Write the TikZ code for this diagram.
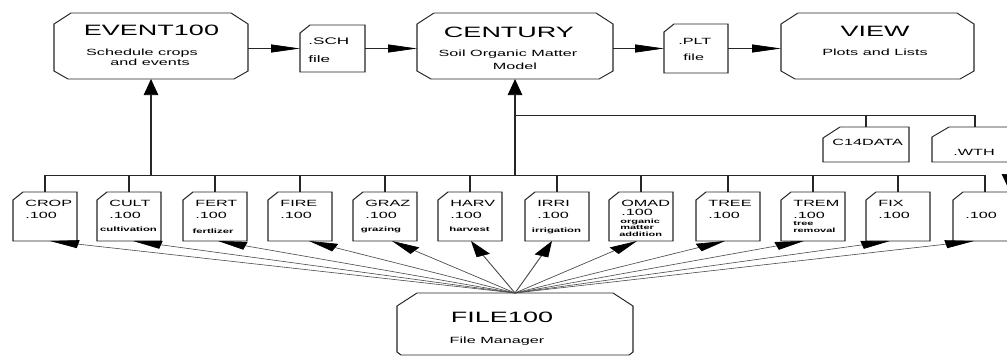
\documentclass[tikz,border=0pt]{standalone}
\usepackage{fontspec}
\setmainfont{Liberation Sans}
\usetikzlibrary{arrows.meta,calc}

\tikzset{
  boxline/.style={draw=black!85, line width=0.75pt, line join=miter},
  holder/.style={inner sep=0pt, outer sep=0pt, draw=none},
  arr/.style={draw=black!85, line width=0.65pt, -{Triangle[length=16pt,width=8pt,color=black]}},
  fan/.style={draw=black!70, line width=0.6pt, -{Triangle[length=16pt,width=8pt,color=black]}},
  wire/.style={draw=black!85, line width=0.65pt},
  ttl/.style={font=\fontsize{15}{18}\selectfont, inner sep=0pt, anchor=base},
  sub/.style={font=\fontsize{9}{11}\selectfont, inner sep=0pt, anchor=base},
  fnm/.style={font=\fontsize{9}{11}\selectfont, inner sep=0pt, anchor=base west},
  fsb/.style={font=\bfseries\fontsize{6.3}{7}\selectfont, inner sep=0pt, anchor=base},
  fsbw/.style={font=\bfseries\fontsize{6.1}{7}\selectfont, inner sep=0pt, anchor=base west},
}

% octagon outline round a holder node: name, top cut x, top cut y, bottom cut x, bottom cut y
\newcommand\octa[5]{\draw[boxline] ($(#1.north west)+(#2,0)$) -- ($(#1.north east)+(-#2,0)$) -- ($(#1.north east)+(0,#3)$) -- ($(#1.south east)+(0,-#5)$) -- ($(#1.south east)+(-#4,0)$) -- ($(#1.south west)+(#4,0)$) -- ($(#1.south west)+(0,-#5)$) -- ($(#1.north west)+(0,#3)$) -- cycle;}
% file outline with cut top-left corner
\newcommand\dogear[3]{\draw[boxline] ($(#1.north west)+(#2,0)$) -- (#1.north east) -- (#1.south east) -- (#1.south west) -- ($(#1.north west)+(0,#3)$) -- cycle;}
% one .100 file of the lower row: name, centre x, title, baseline offset of .100
\newcommand\filebox[4]{%
  \node[holder, minimum width=35.56pt, minimum height=49pt] (#1) at (#2,216.5) {};
  \dogear{#1}{10}{8}
  \node[fnm] (#1-n) at ($(#1.north west)+(12,14.5)$) {#3};
  \node[fnm] (#1-x) at ($(#1.north west)+(12,#4)$) {.100};
  \draw[wire] (#1.north) -- (#1.north |- bus);
}

\begin{document}
\begin{tikzpicture}
\useasboundingbox (0pt,0pt) rectangle (1007pt,-356pt);
\fill[white] (0pt,0pt) rectangle (1007pt,-356pt);
\begin{scope}[transform canvas={xscale=1.8}, x=0.555556pt, y=-1pt]
\clip (0,0) rectangle (1007,356);
\coordinate (bus) at (0,175);
\coordinate (br) at (0,115);

% main programs
\node[holder, minimum width=107.78pt, minimum height=66pt] (ev) at (151,46) {};
\octa{ev}{17}{11}{14}{8}
\node[ttl] (ev-t) at (151.5,35) {EVENT100};
\node[sub] (ev-s1) at (142,55) {Schedule crops};
\node[sub] (ev-s2) at (150,65.7) {and events};

\node[holder, minimum width=108.89pt, minimum height=66pt] (ce) at (515,46) {};
\octa{ce}{17}{11}{14}{8}
\node[ttl] (ce-t) at (509,37) {CENTURY};
\node[sub] (ce-s1) at (508,56.7) {Soil Organic Matter};
\node[sub] (ce-s2) at (515,69.3) {Model};

\node[holder, minimum width=107.22pt, minimum height=66pt] (vw) at (877.5,46) {};
\octa{vw}{17}{11}{14}{8}
\node[ttl] (vw-t) at (875,36.7) {VIEW};
\node[sub] (vw-s) at (875,55.7) {Plots and Lists};

\node[holder, minimum width=131.11pt, minimum height=62pt] (fm) at (515,324) {};
\octa{fm}{20}{13}{4}{3}
\node[ttl] (fm-t) at (502,322.7) {FILE100};
\node[sub] (fm-s) at (497,343) {File Manager};

% intermediate files
\node[holder, minimum width=36.11pt, minimum height=47pt] (sch) at (332.5,48.5) {};
\dogear{sch}{10}{8}
\node[fnm, font=\fontsize{9.5}{11}\selectfont] (sch-a) at (308,44) {.SCH};
\node[fnm, font=\fontsize{9.5}{11}\selectfont] (sch-b) at (308,62.3) {file};

\node[holder, minimum width=35.56pt, minimum height=49pt] (plt) at (696,48.5) {};
\dogear{plt}{10}{8}
\node[fnm] (plt-a) at (678,44) {.PLT};
\node[fnm] (plt-b) at (683,60) {file};

\node[holder, minimum width=47.78pt, minimum height=35pt] (c14) at (866,144.5) {};
\dogear{c14}{17}{11}
\node[fnm] (c14-a) at (832,145.7) {C14DATA};

\node[holder, minimum width=47.78pt, minimum height=35pt] (wth) at (975,144.5) {};
\dogear{wth}{17}{10}
\node[fnm] (wth-a) at (953,155) {.WTH};

% lower row of .100 files
\filebox{crop}{45}{CROP}{26.3}
\filebox{cult}{129}{CULT}{26.3}
\filebox{fert}{215}{FERT}{26.3}
\filebox{fire}{300}{FIRE}{26.3}
\filebox{graz}{385}{GRAZ}{26.3}
\filebox{harv}{470}{HARV}{26.3}
\filebox{irri}{557}{IRRI}{26.3}
\filebox{omad}{641}{OMAD}{23.5}
\filebox{tree}{728}{TREE}{26.3}
\filebox{trem}{813}{TREM}{26.3}
\filebox{fix}{898}{FIX}{26.3}
\filebox{lst}{985}{}{26.3}

\node[fsb] (cult-s) at (128.5,231.7) {cultivation};
\node[fsb] (fert-s) at (213,233) {fertlizer};
\node[fsb] (graz-s) at (381,231.7) {grazing};
\node[fsb] (harv-s) at (469.5,231) {harvest};
\node[fsb] (irri-s) at (556.5,232.7) {irrigation};
\node[fsbw] (omad-s1) at (620,223.2) {organic};
\node[fsbw] (omad-s2) at (620,229.6) {matter};
\node[fsbw] (omad-s3) at (619,236.7) {addition};
\node[fsbw] (trem-s1) at (793,225.7) {tree};
\node[fsbw] (trem-s2) at (793,232.3) {removal};

% bus and upward arrows
\draw[wire] (crop.north |- bus) -- (lst.north |- bus);
\draw[arr] (ev.south |- bus) -- (ev.south);
\draw[arr] (ce.south |- bus) -- (ce.south);
\draw[wire] (ce.south |- br) -| (wth.north);
\draw[wire] (c14.north) -- (c14.north |- br);

% top row arrows
\draw[arr] (ev.east |- sch.west) -- (sch.west);
\draw[arr] (sch.east) -- (ce.west |- sch.east);
\draw[arr] (ce.east |- plt.west) -- (plt.west);
\draw[arr] (plt.east) -- (vw.west |- plt.east);

% arrow leaving the picture at the right edge
\coordinate (wthA) at (1009,163);
\coordinate (wthB) at (1009,190);
\draw[arr] (wthA) -- (wthB);

% fan of arrows from FILE100
\draw[fan] (fm.north) -- ($(crop.south)+(5,0)$);
\draw[fan] (fm.north) -- ($(cult.south)+(4,0)$);
\draw[fan] (fm.north) -- ($(fert.south)+(3,0)$);
\draw[fan] (fm.north) -- ($(fire.south)+(9,0)$);
\draw[fan] (fm.north) -- ($(graz.south)+(7,0)$);
\draw[fan] (fm.north) -- ($(harv.south)+(1,0)$);
\draw[fan] (fm.north) -- ($(irri.south)+(-5,0)$);
\draw[fan] (fm.north) -- ($(omad.south)+(-4,0)$);
\draw[fan] (fm.north) -- ($(tree.south)+(-3,0)$);
\draw[fan] (fm.north) -- ($(trem.south)+(-9,0)$);
\draw[fan] (fm.north) -- ($(fix.south)+(-8,0)$);
\draw[fan] (fm.north) -- ($(lst.south)+(-11,0)$);
\end{scope}
\end{tikzpicture}
\end{document}
